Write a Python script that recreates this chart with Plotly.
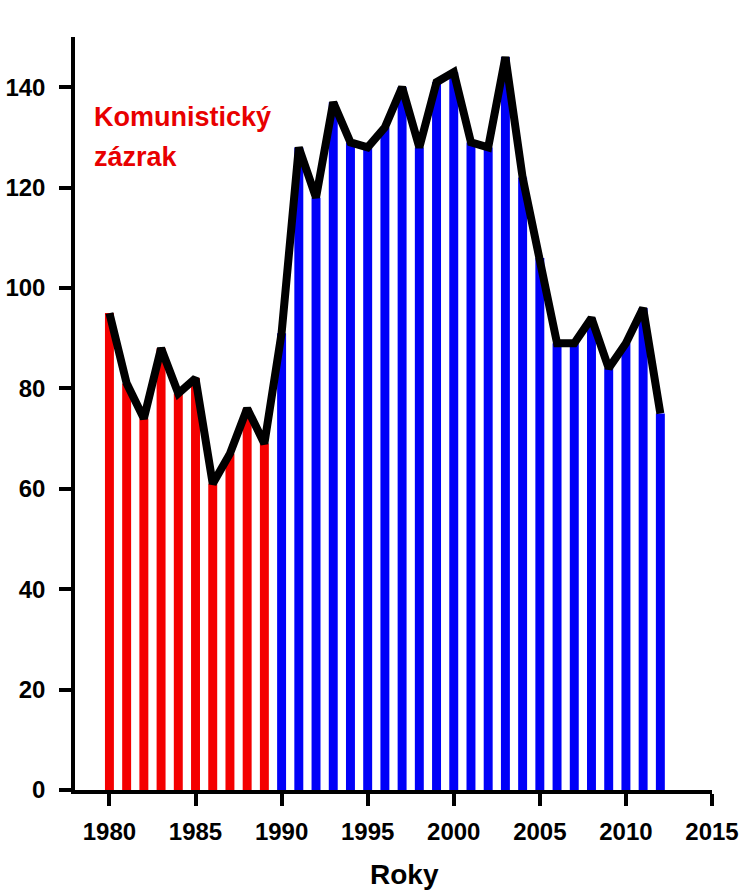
import plotly.graph_objects as go

# Yearly values
years_red = list(range(1980, 1990))
values_red = [95, 81, 74, 88, 79, 82, 61, 67, 76, 69]
years_blue = list(range(1990, 2013))
values_blue = [91, 128, 118, 137, 129, 128, 132, 140, 128, 141, 143, 129,
               128, 146, 122, 106, 89, 89, 94, 84, 89, 96, 75]

all_years = years_red + years_blue
all_values = values_red + values_blue

x_ticks = [1980, 1985, 1990, 1995, 2000, 2005, 2010, 2015]
y_ticks = [0, 20, 40, 60, 80, 100, 120, 140]

FONT = "Liberation Sans, Arial, sans-serif"

fig = go.Figure()
fig.add_trace(go.Bar(x=years_red, y=values_red, width=0.52,
                     marker=dict(color="#f40000", line=dict(width=0)),
                     showlegend=False))
fig.add_trace(go.Bar(x=years_blue, y=values_blue, width=0.52,
                     marker=dict(color="#0000f8", line=dict(width=0)),
                     showlegend=False))
fig.add_trace(go.Scatter(x=all_years, y=all_values, mode="lines",
                         line=dict(color="black", width=8),
                         showlegend=False, cliponaxis=False))

axis_common = dict(
    showgrid=False, zeroline=False, showline=True, linecolor="black",
    linewidth=3.5, ticks="outside", ticklen=12, tickwidth=3.5,
    tickcolor="black", automargin=False,
    tickfont=dict(family=FONT, size=24, color="black", weight="bold"),
)

fig.update_xaxes(range=[1978, 2015], tickvals=x_ticks,
                 ticklabelstandoff=5, **axis_common)
fig.update_yaxes(range=[0, 150], tickvals=y_ticks,
                 ticklabelstandoff=9, **axis_common)

# extend the baseline a little to the left of the value axis
fig.add_shape(type="line", xref="paper", yref="y", x0=-0.018, x1=0,
              y0=0, y1=0, line=dict(color="black", width=3.5))

ann_font = dict(family=FONT, size=27, weight="bold")
fig.add_annotation(x=1979.0, y=134, xref="x", yref="y", text="Komunistický",
                   showarrow=False, xanchor="left", yanchor="middle",
                   font=dict(color="#e80000", **ann_font))
fig.add_annotation(x=1979.0, y=126, xref="x", yref="y", text="zázrak",
                   showarrow=False, xanchor="left", yanchor="middle",
                   font=dict(color="#e80000", **ann_font))
fig.add_annotation(x=2001.6, y=152.6, xref="x", yref="y", text="BoPKoTi",
                   showarrow=False, xanchor="center", yanchor="middle",
                   font=dict(color="#1010e8", **ann_font))
fig.add_annotation(x=0.5165, y=-0.112, xref="paper", yref="paper", text="Roky",
                   showarrow=False, xanchor="center", yanchor="middle",
                   font=dict(family=FONT, size=28, weight="bold", color="black"))

fig.update_layout(
    width=744, height=890,
    margin=dict(l=75, r=32, t=37, b=100),
    paper_bgcolor="white", plot_bgcolor="white",
    barmode="overlay",
)

fig.write_html("out.html")
